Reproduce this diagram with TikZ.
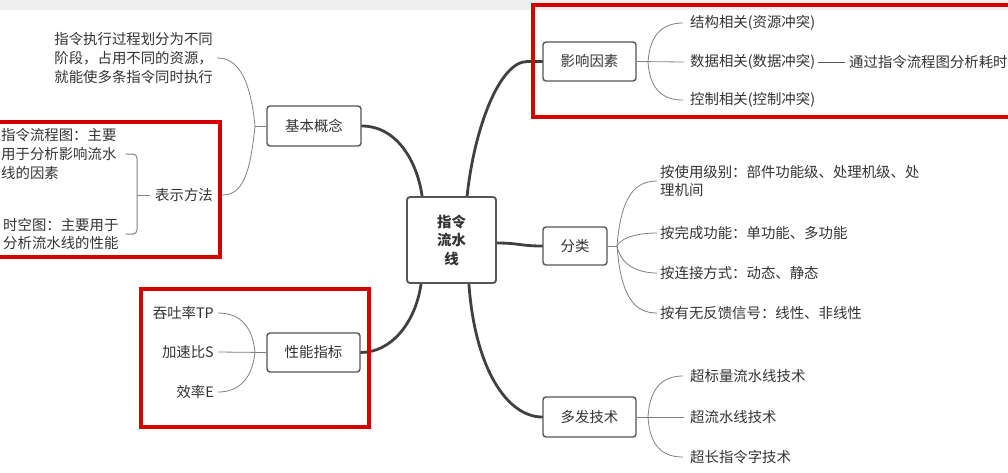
\documentclass[tikz,border=0pt]{standalone}
\usepackage{fontspec}
\setmainfont{Noto Sans CJK SC}
\usetikzlibrary{backgrounds}
\definecolor{txt}{HTML}{333333}
\definecolor{boxc}{HTML}{555555}
\definecolor{thickc}{HTML}{404040}
\definecolor{thinc}{HTML}{808080}
\definecolor{redc}{RGB}{212,0,0}
\definecolor{bandc}{HTML}{EFEFEF}
\newcommand{\fs}{\fontsize{14.4pt}{18.8pt}\selectfont}
\tikzset{
  topic/.style={draw=boxc, line width=1.4pt, rounded corners=3pt, fill=white, inner sep=0pt, font=\fs, text=txt},
  leaf/.style={inner sep=0pt, align=left, font=\fs, text=txt},
  thickline/.style={draw=thickc, line width=2.8pt, line cap=round},
  thinline/.style={draw=thinc, line width=0.8pt},
  redbox/.style={draw=redc, line width=4pt},
}
\begin{document}
\begin{tikzpicture}[x=1pt,y=-1pt]
\useasboundingbox (0,0) rectangle (1008,472);
\fill[bandc] (0,0) rectangle (1008,10);

% central and main topics
\node[topic, line width=1.8pt, minimum width=89pt, minimum height=86pt, align=center, font={\fontsize{14.4pt}{18.5pt}\selectfont\bfseries}] (root) at (451.5,240) {指令\\流水\\线};
\node[topic, minimum width=94pt, minimum height=40pt] (jbgn) at (314,126) {基本概念};
\node[topic, minimum width=93pt, minimum height=39pt] (yxys) at (589.5,61.5) {影响因素};
\node[topic, minimum width=64pt, minimum height=38pt] (fl) at (575,246) {分类};
\node[topic, minimum width=93pt, minimum height=39pt] (xnzb) at (313.5,352.5) {性能指标};
\node[topic, minimum width=93pt, minimum height=40pt] (dfjs) at (589.5,417) {多发技术};

% leaves of 基本概念
\node[leaf, anchor=east] (d1) at (213,58) {指令执行过程划分为不同\\阶段，占用不同的资源，\\就能使多条指令同时执行};
\node[leaf, anchor=east] (bsff) at (213,195) {表示方法};
\node[leaf, anchor=west] (lct) at (1,154) {指令流程图：主要\\用于分析影响流水\\线的因素};
\node[leaf, anchor=west] (skt) at (3,234) {时空图：主要用于\\分析流水线的性能};

% leaves of 影响因素
\node[leaf, anchor=west] (jg) at (690,23) {结构相关(资源冲突)};
\node[leaf, anchor=west] (sj) at (690,62) {数据相关(数据冲突)};
\node[leaf, anchor=west] (kz) at (690,100) {控制相关(控制冲突)};
\node[leaf, anchor=west] (tg) at (849,62) {通过指令流程图分析耗时};

% leaves of 分类
\node[leaf, anchor=west] (f1) at (660,181) {按使用级别：部件功能级、处理机级、处\\理机间};
\node[leaf, anchor=west] (f2) at (660,233) {按完成功能：单功能、多功能};
\node[leaf, anchor=west] (f3) at (660,273) {按连接方式：动态、静态};
\node[leaf, anchor=west] (f4) at (660,313) {按有无反馈信号：线性、非线性};

% leaves of 性能指标
\node[leaf, anchor=east] (x1) at (214,313) {吞吐率TP};
\node[leaf, anchor=east] (x2) at (214,352) {加速比S};
\node[leaf, anchor=east] (x3) at (214,392) {效率E};

% leaves of 多发技术
\node[leaf, anchor=west] (m1) at (690,376) {超标量流水线技术};
\node[leaf, anchor=west] (m2) at (690,417) {超流水线技术};
\node[leaf, anchor=west] (m3) at (690,457) {超长指令字技术};

% junctions
\coordinate (J1) at (255,126);
\coordinate (J2) at (648,62);
\coordinate (J3) at (617,246);
\coordinate (J4) at (255,352);
\coordinate (J5) at (648,417);
\coordinate (B) at (137,195);

\begin{scope}[on background layer]
% thick connectors
\draw[thickline] (jbgn.east) .. controls +(35,0) and +(-5,-35) .. ([xshift=16pt]root.north west);
\draw[thickline] ([xshift=61pt]root.north west) .. controls +(7,-67) and +(-28,0) .. ([xshift=-15pt]yxys.west) -- (yxys.west);
\draw[thickline] ([yshift=-3pt]root.east) .. controls +(22,0) and +(-22,0) .. (fl.west);
\draw[thickline] ([xshift=15pt]root.south west) .. controls +(-6,40) and +(30,0) .. (xnzb.east);
\draw[thickline] ([xshift=-28pt]root.south east) .. controls +(6,85) and +(-35,0) .. (dfjs.west);
\end{scope}

% thin connectors: 基本概念
\draw[thinline] (jbgn.west) -- (J1);
\draw[thinline] (J1) .. controls +(-5,-50) and +(20,0) .. ([xshift=4pt]d1.east);
\draw[thinline] (J1) .. controls +(-5,50) and +(20,0) .. ([xshift=9pt]bsff.east);
\draw[thinline, line width=1pt, rounded corners=4pt] ([xshift=9pt]lct.east) -| (B) |- ([xshift=7pt]skt.east);
\draw[thinline, line width=1pt] (B) -- ([xshift=-5pt]bsff.west);

% 影响因素
\draw[thinline] (yxys.east) -- ([xshift=-6pt]sj.west);
\draw[thinline] (J2) .. controls +(2,-30) and +(-18,0) .. ([xshift=-7pt]jg.west);
\draw[thinline] (J2) .. controls +(2,30) and +(-18,0) .. ([xshift=-7pt]kz.west);
\draw[draw=boxc, line width=1pt] ([xshift=3pt]sj.east) -- ([xshift=-4pt]tg.west);

% 分类
\draw[thinline] (fl.east) -- (J3);
\draw[thinline] (J3) .. controls +(4,-50) and +(-22,0) .. ([xshift=-3pt]f1.west);
\draw[thinline] (J3) .. controls +(5,-10) and +(-15,0) .. ([xshift=-3pt]f2.west);
\draw[thinline] (J3) .. controls +(4,20) and +(-18,0) .. ([xshift=-3pt]f3.west);
\draw[thinline] (J3) .. controls +(4,52) and +(-22,0) .. ([xshift=-3pt]f4.west);

% 性能指标
\draw[thinline] (xnzb.west) -- ([xshift=4pt]x2.east);
\draw[thinline] (J4) .. controls +(-3,-30) and +(18,0) .. ([xshift=4pt]x1.east);
\draw[thinline] (J4) .. controls +(-3,30) and +(18,0) .. ([xshift=4pt]x3.east);

% 多发技术
\draw[thinline] (dfjs.east) -- ([xshift=-6pt]m2.west);
\draw[thinline] (J5) .. controls +(2,-32) and +(-18,0) .. ([xshift=-7pt]m1.west);
\draw[thinline] (J5) .. controls +(2,32) and +(-18,0) .. ([xshift=-7pt]m3.west);

% red highlight frames
\draw[redbox] (1010,5) -- (533,5) -- (533,117) -- (1010,117);
\draw[redbox] (-3,122) -- (220,122) -- (220,257) -- (-3,257);
\draw[redbox] (141,289) rectangle (369,427);
\end{tikzpicture}
\end{document}
